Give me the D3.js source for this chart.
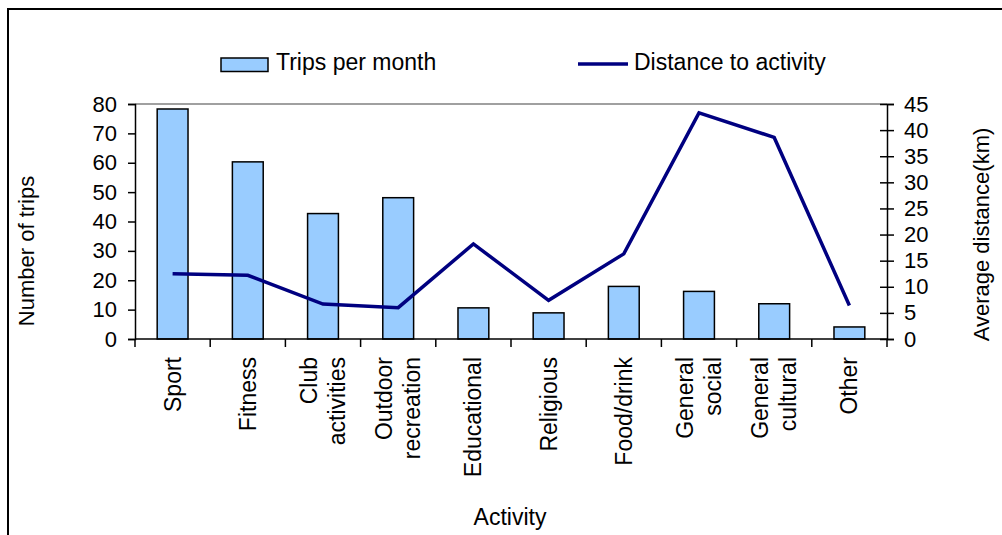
<!DOCTYPE html>
<html>
<head>
<meta charset="utf-8">
<script src="https://cdn.jsdelivr.net/npm/d3@7"></script>
<style>
  html, body { margin: 0; padding: 0; background: #fff; }
  svg { display: block; }
  text { font-family: "Liberation Sans", Arial, sans-serif; fill: #000; }
</style>
</head>
<body>
<svg id="chart" width="1002" height="535"></svg>
<script>
const categories = ["Sport", "Fitness", "Club activities", "Outdoor recreation", "Educational",
  "Religious", "Food/drink", "General social", "General cultural", "Other"];
const categoryLines = [["Sport"], ["Fitness"], ["Club", "activities"], ["Outdoor", "recreation"],
  ["Educational"], ["Religious"], ["Food/drink"], ["General", "social"], ["General", "cultural"], ["Other"]];
const tripsPerMonth = [78.3, 60.3, 42.7, 48.1, 10.6, 8.9, 17.9, 16.2, 12.0, 4.1];
const distanceToActivity = [12.5, 12.2, 6.7, 6.0, 18.2, 7.4, 16.3, 43.3, 38.6, 6.4];
const leftTicks = [0, 10, 20, 30, 40, 50, 60, 70, 80];
const rightTicks = [0, 5, 10, 15, 20, 25, 30, 35, 40, 45];
const seriesNames = ["Trips per month", "Distance to activity"];
const axisTitles = { left: "Number of trips", right: "Average distance(km)", bottom: "Activity" };

const svg = d3.select("#chart");
const FS = 22;   // tick labels
const FT = 23;   // other text
const plot = { left: 135, right: 887, top: 104, bottom: 339 };

// outer frame (cut at right and bottom)
svg.append("path").attr("d", "M8,535 L8,9 L1002,9")
  .attr("fill", "none").attr("stroke", "#000").attr("stroke-width", 2);

const x = d3.scaleBand().domain(categories).range([plot.left, plot.right]).paddingInner(0).paddingOuter(0);
const yL = d3.scaleLinear().domain([0, 80]).range([plot.bottom, plot.top]);
const yR = d3.scaleLinear().domain([0, 45]).range([plot.bottom, plot.top]);

// top gridline
svg.append("line").attr("x1", plot.left).attr("x2", plot.right)
  .attr("y1", yL(80)).attr("y2", yL(80)).attr("stroke", "#808080").attr("stroke-width", 1.5);

// bars
const bw = x.bandwidth() * 0.41;
svg.append("g").selectAll("rect").data(tripsPerMonth).join("rect")
  .attr("x", (d, i) => x(categories[i]) + (x.bandwidth() - bw) / 2)
  .attr("width", bw)
  .attr("y", d => yL(d))
  .attr("height", d => yL(0) - yL(d))
  .attr("fill", "#99CCFF").attr("stroke", "#000").attr("stroke-width", 1.5);

// left axis
const gL = svg.append("g").attr("transform", `translate(${plot.left},0)`)
  .call(d3.axisLeft(yL).tickValues(leftTicks).tickSize(7).tickPadding(11));
gL.select(".domain").attr("stroke", "#000").attr("stroke-width", 1.5);
gL.selectAll(".tick line").attr("stroke", "#000").attr("stroke-width", 1.5);
gL.selectAll(".tick text").attr("font-size", FS).attr("font-family", "Liberation Sans, Arial, sans-serif");

// right axis
const gR = svg.append("g").attr("transform", `translate(${plot.right},0)`)
  .call(d3.axisRight(yR).tickValues(rightTicks).tickSize(7).tickPadding(10));
gR.select(".domain").attr("stroke", "#000").attr("stroke-width", 1.5);
gR.selectAll(".tick line").attr("x1", -7).attr("x2", 7).attr("stroke", "#000").attr("stroke-width", 1.5);
gR.selectAll(".tick text").attr("font-size", FS).attr("font-family", "Liberation Sans, Arial, sans-serif");

// bottom axis
svg.append("line").attr("x1", plot.left).attr("x2", plot.right)
  .attr("y1", plot.bottom).attr("y2", plot.bottom).attr("stroke", "#000").attr("stroke-width", 1.5);
const boundaries = categories.map(c => x(c)).concat([x.range()[1]]);
svg.append("g").selectAll("line").data(boundaries).join("line")
  .attr("x1", d => d).attr("x2", d => d)
  .attr("y1", plot.bottom).attr("y2", plot.bottom + 8)
  .attr("stroke", "#000").attr("stroke-width", 1.5);

// category labels
const LH = 28;
const labG = svg.append("g");
categoryLines.forEach((lines, i) => {
  const cx = x(categories[i]) + x.bandwidth() / 2;
  const n = lines.length;
  lines.forEach((ln, j) => {
    const off = (j - (n - 1) / 2) * LH + 8;
    labG.append("text")
      .attr("transform", `translate(${cx + off},357) rotate(-90)`)
      .attr("text-anchor", "end")
      .attr("font-size", FT)
      .text(ln);
  });
});

// line series
const line = d3.line()
  .x((d, i) => x(categories[i]) + x.bandwidth() / 2)
  .y(d => yR(d));
svg.append("path").datum(distanceToActivity)
  .attr("d", line).attr("fill", "none")
  .attr("stroke", "#000080").attr("stroke-width", 3.5).attr("stroke-linejoin", "miter");

// axis titles
svg.append("text").attr("transform", "translate(34,251) rotate(-90)")
  .attr("text-anchor", "middle").attr("font-size", FS).text(axisTitles.left);
svg.append("text").attr("transform", "translate(989,234.5) rotate(-90)")
  .attr("text-anchor", "middle").attr("font-size", FS).text(axisTitles.right);
svg.append("text").attr("x", 510).attr("y", 525)
  .attr("text-anchor", "middle").attr("font-size", FT).text(axisTitles.bottom);

// legend
svg.append("rect").attr("x", 221).attr("y", 58).attr("width", 47).attr("height", 13.5)
  .attr("fill", "#99CCFF").attr("stroke", "#000").attr("stroke-width", 1.5);
svg.append("text").attr("x", 276).attr("y", 70).attr("font-size", FT).text(seriesNames[0]);
svg.append("line").attr("x1", 578).attr("x2", 628).attr("y1", 64).attr("y2", 64)
  .attr("stroke", "#000080").attr("stroke-width", 3.5);
svg.append("text").attr("x", 634).attr("y", 70).attr("font-size", FT).text(seriesNames[1]);
</script>
</body>
</html>
